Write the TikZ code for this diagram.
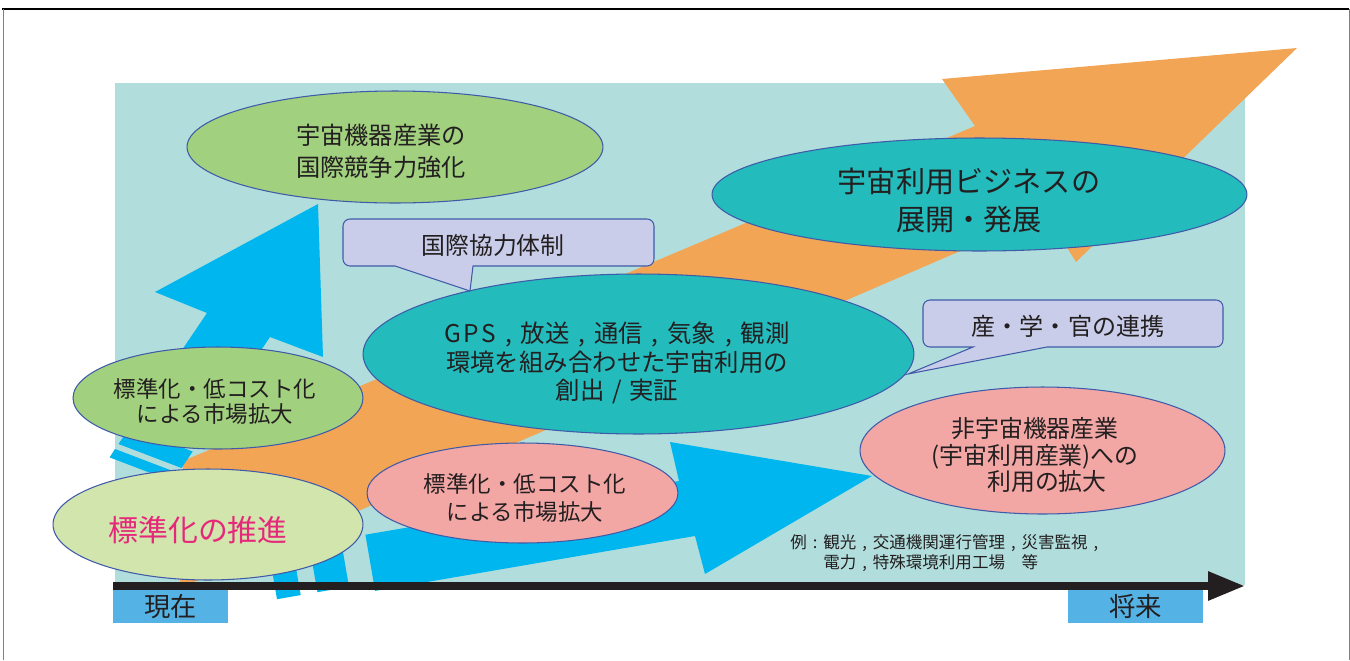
\documentclass[tikz,border=0pt]{standalone}
\usepackage{fontspec}
\setmainfont{Noto Sans CJK JP}
\usetikzlibrary{shapes.geometric,arrows.meta}
\definecolor{bgteal}{HTML}{B1DEDD}
\definecolor{orng}{HTML}{F2A554}
\definecolor{cyanA}{HTML}{00B6EE}
\definecolor{grn}{HTML}{A1D07E}
\definecolor{lgrn}{HTML}{D1E5AC}
\definecolor{tealE}{HTML}{23BBBC}
\definecolor{pnk}{HTML}{F2A7A5}
\definecolor{lav}{HTML}{C9CDE9}
\definecolor{edgeblue}{HTML}{3F5AA8}
\definecolor{lblue}{HTML}{55B2E5}
\definecolor{ink}{HTML}{231F20}
\definecolor{mag}{HTML}{E6287B}
\newcommand{\zcm}{\makebox[1em][c]{,}}
\newcommand{\zsl}{\makebox[1em][c]{/}}
\newcommand{\zcl}{\makebox[1em][c]{:}}
\tikzset{
  ell/.style={ellipse, draw=edgeblue, line width=0.6pt, inner sep=0pt},
  txt/.style={text=ink, align=center, inner sep=0pt},
  bub/.style={fill=lav, draw=edgeblue, line width=0.6pt},
  lbl/.style={fill=lblue, text=ink, inner sep=0pt, font=\fontsize{15pt}{18pt}\selectfont},
}
\begin{document}
\begin{tikzpicture}[x=0.02cm,y=-0.02cm]
\useasboundingbox (0,0) rectangle (1350,660);
% frame
\draw[line width=0.8pt] (2,9) -- (1349,9);
\draw[gray, line width=0.5pt] (3,9) -- (3,660);
\draw[gray, line width=0.5pt] (1349,9) -- (1349,660);
% background
\fill[bgteal] (115,83) rectangle (1245,585);
% big orange arrow
\fill[orng] (183,461) -- (975,126) -- (942,79) -- (1297,48) -- (1076,262) -- (1046,214) -- (180,588) -- cycle;
% upward blue striped arrow
\fill[cyanA] (318,204) -- (323,357) -- (270,337) -- (197,445) -- (134,421) -- (207,313) -- (155,292) -- cycle;
\fill[cyanA] (192.7,451.5) -- (181.5,468) -- (118.5,444) -- (129.7,427.5) -- cycle;
\fill[cyanA] (178,473) -- (172.6,481.4) -- (109.6,457.4) -- (115,449) -- cycle;
% rightward blue striped arrow
\fill[cyanA] (872,476) -- (705,574) -- (695,536) -- (375.1,590.9) -- (365.4,534.7) -- (679,481) -- (670,442) -- cycle;
\fill[cyanA] (340.75,539.0) -- (349.0,586.8) -- (317.4,592.2) -- (309.15,544.4) -- cycle;
\fill[cyanA] (292.45,547.3) -- (300.7,595.1) -- (277.0,599.2) -- (268.75,551.4) -- cycle;
% axis
\coordinate (ax0) at (113,586);
\coordinate (ax1) at (1245,586);
\draw[ink, line width=4.5pt, -{Triangle[length=21pt,width=15.5pt]}] (ax0) -- (ax1);
% ellipses
\node[ell, fill=grn, minimum width=8.32cm, minimum height=2.24cm] (e1) at (395,147) {};
\node[ell, fill=tealE, minimum width=10.7cm, minimum height=2.26cm] (e2) at (979.5,194.5) {};
\node[ell, fill=tealE, minimum width=11.02cm, minimum height=3.2cm] (e3) at (638.5,354) {};
\node[ell, fill=grn, minimum width=5.8cm, minimum height=2.04cm] (e4) at (218,398) {};
\node[ell, fill=lgrn, minimum width=6.2cm, minimum height=2.22cm] (e5) at (208,524.5) {};
\node[ell, fill=pnk, minimum width=6.22cm, minimum height=2.0cm] (e6) at (522.5,493) {};
\node[ell, fill=pnk, minimum width=7.3cm, minimum height=2.54cm] (e7) at (1042.5,450.5) {};
% texts in ellipses
\node[txt, font=\fontsize{13.8pt}{18.1pt}\selectfont] (t1) at (381,151) {宇宙機器産業の\\国際競争力強化};
\node[txt, font=\fontsize{16.6pt}{22.1pt}\selectfont] (t2) at (969,200.5) {宇宙利用ビジネスの\\展開・発展};
\node[txt, font=\fontsize{13.9pt}{16.4pt}\selectfont] (t3) at (617,363) {G\kern1.5pt P\kern1.5pt S\zcm 放送\zcm 通信\zcm 気象\zcm 観測\\環境を組み合わせた宇宙利用の\\創出\zsl 実証};
\node[txt, font=\fontsize{12.8pt}{14.2pt}\selectfont] (t4) at (215,401.5) {標準化・低コスト化\\による市場拡大};
\node[txt, text=mag, font=\fontsize{17pt}{20pt}\selectfont] (t5) at (198,530) {標準化の推進};
\node[txt, font=\fontsize{12.8pt}{15.9pt}\selectfont] (t6) at (525,498) {標準化・低コスト化\\による市場拡大};
\node[txt, font=\fontsize{13.6pt}{15.3pt}\selectfont] (t7) at (1035,455) {非宇宙機器産業\\(宇宙利用産業)への\\\hspace*{1em}利用の拡大};
% speech bubbles
\path[bub] (470,291) -- (395,266) [rounded corners=4pt] -- (343,266) -- (343,219) -- (654,219) -- (654,266) [sharp corners] -- (473,266) -- cycle;
\node[txt, font=\fontsize{13.6pt}{16pt}\selectfont] (bA) at (493,245) {国際協力体制};
\path[bub] (908,374) -- (973,347) [rounded corners=4pt] -- (923,347) -- (923,300) -- (1223,300) -- (1223,347) [sharp corners] -- (1047,347) -- cycle;
\node[txt, font=\fontsize{13.7pt}{16pt}\selectfont] (bB) at (1068,326) {産・学・官の連携};
% example text
\node[txt, align=left, anchor=west, font=\fontsize{9.4pt}{11.3pt}\selectfont] (ex) at (790,553) {例\zcl 観光\zcm 交通機関運行管理\zcm 災害監視\zcm\\\hspace*{2em}電力\zcm 特殊環境利用工場　等};
% time labels
\node[lbl, minimum width=2.3cm, minimum height=0.66cm] (now) at (170.5,606.5) {現在};
\node[lbl, minimum width=2.7cm, minimum height=0.66cm] (fut) at (1135.5,606.5) {将来};
\end{tikzpicture}
\end{document}
